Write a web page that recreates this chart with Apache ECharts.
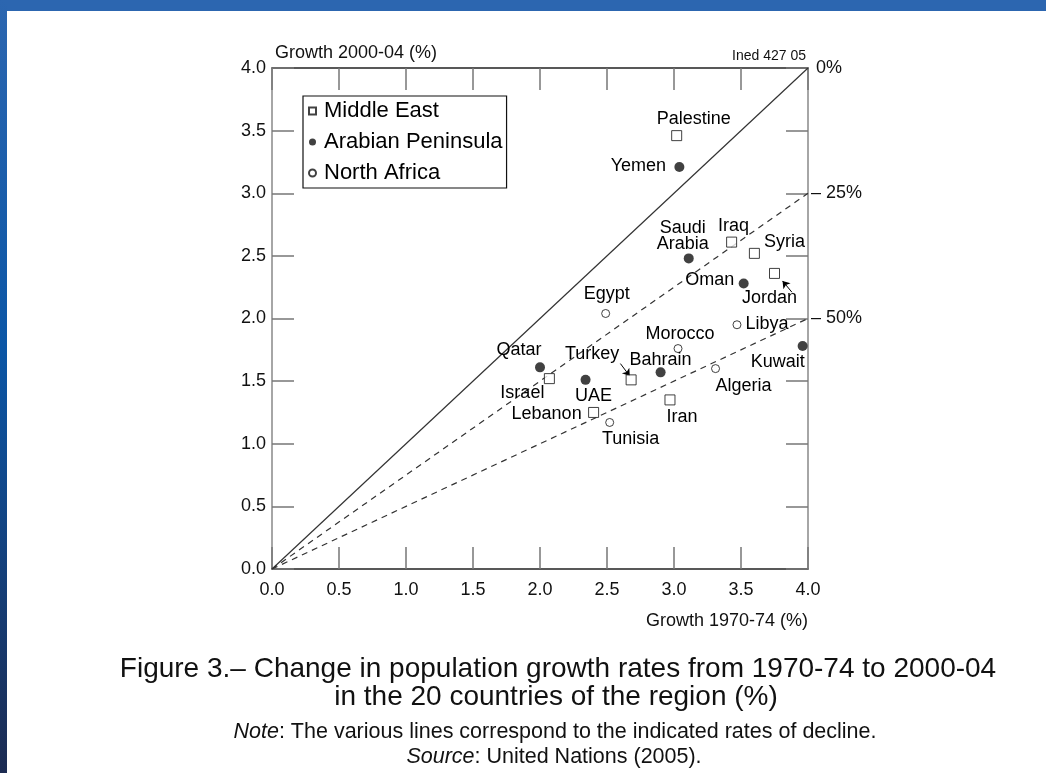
<!DOCTYPE html>
<html>
<head>
<meta charset="UTF-8">
<title>Population growth 1970-74 vs 2000-04</title>
<script src="https://cdn.jsdelivr.net/npm/echarts@6/dist/echarts.min.js"></script>
<style>
body{margin:0;background:#fff;}
#chart{position:absolute;left:0;top:0;width:1046px;height:773px;}
#topbar{position:absolute;left:0;top:0;width:1046px;height:11px;background:#2c66b0;}
#leftbar{position:absolute;left:0;top:0;width:7px;height:773px;background:linear-gradient(#2c66b0,#0b56a6 45%,#1c2b52);}
</style>
</head>
<body>
<div id="chart"></div>
<div id="topbar"></div>
<div id="leftbar"></div>
<script type="text/javascript">
// data
var regions = ['Middle East', 'Arabian Peninsula', 'North Africa'];
var countries = ['Palestine', 'Iraq', 'Syria', 'Jordan', 'Israel', 'Turkey', 'Iran', 'Lebanon',
	'Yemen', 'Saudi\nArabia', 'Oman', 'Kuwait', 'Qatar', 'UAE', 'Bahrain',
	'Egypt', 'Libya', 'Morocco', 'Algeria', 'Tunisia'];
var region = [0, 0, 0, 0, 0, 0, 0, 0, 1, 1, 1, 1, 1, 1, 1, 2, 2, 2, 2, 2];
var growth7074 = [3.02, 3.43, 3.60, 3.75, 2.07, 2.68, 2.97, 2.40,
	3.04, 3.11, 3.52, 3.96, 2.00, 2.34, 2.90,
	2.49, 3.47, 3.03, 3.31, 2.52];
var growth0004 = [3.46, 2.61, 2.52, 2.36, 1.52, 1.51, 1.35, 1.25,
	3.21, 2.48, 2.28, 1.78, 1.61, 1.51, 1.57,
	2.04, 1.95, 1.76, 1.60, 1.17];
var declines = [0, 25, 50];

// label placement (pixels from the marker)
var labelOffset = {
	'Palestine': [17, -17], 'Iraq': [2, -16], 'Syria': [30, -11], 'Jordan': [-5, 25],
	'Israel': [-27, 14], 'Turkey': [-39, -26], 'Iran': [12, 17], 'Lebanon': [-47, 2],
	'Yemen': [-41, -1], 'Saudi\nArabia': [-6, -22], 'Oman': [-34, -3], 'Kuwait': [-25, 16],
	'Qatar': [-21, -17], 'UAE': [8, 16], 'Bahrain': [0, -12],
	'Egypt': [1, -19], 'Libya': [30, -1], 'Morocco': [2, -15], 'Algeria': [28, 17], 'Tunisia': [21, 17]
};
// arrows pointing from a label to its marker
var arrows = [
	[[2.60, 1.64], [2.67, 1.54]],
	[[3.88, 2.21], [3.81, 2.30]]
];

var font = 'Liberation Sans';
var symbols = ['rect', 'circle', 'circle'];
var symbolSizes = [10, 10, 8];
var styles = [
	{color: '#fff', borderColor: '#111', borderWidth: 1},
	{color: '#111', borderColor: '#111', borderWidth: 0},
	{color: '#fff', borderColor: '#111', borderWidth: 1}
];

var series = [];
// decline lines
declines.forEach(function(d){
	var top = 4 * (1 - d / 100);
	series.push({
		type: 'line', silent: true, symbol: 'none', animation: false,
		data: [[0, 0], [4, top]],
		lineStyle: {color: '#333', width: 1.2, type: d === 0 ? 'solid' : [6, 5]}
	});
});
// countries by region
regions.forEach(function(r, k){
	var pts = [];
	for (var i = 0; i < countries.length; i++) {
		if (region[i] !== k) continue;
		pts.push({
			name: countries[i],
			value: [growth7074[i], growth0004[i]],
			label: {offset: labelOffset[countries[i]]}
		});
	}
	series.push({
		name: r, type: 'scatter', animation: false,
		symbol: symbols[k], symbolSize: symbolSizes[k],
		itemStyle: styles[k],
		label: {
			show: true, position: 'inside', formatter: '{b}',
			fontFamily: font, fontSize: 18, color: '#000', lineHeight: 16,
			textBorderWidth: 0, opacity: 1,
			align: 'center', verticalAlign: 'middle'
		},
		data: pts,
		z: 5
	});
});
series.push({
	type: 'lines', coordinateSystem: 'cartesian2d', silent: true, animation: false,
	symbol: ['none', 'arrow'], symbolSize: 7,
	lineStyle: {color: '#000', width: 1, opacity: 1},
	data: arrows.map(function(a){ return {coords: a}; })
});

function baseAxis(extra){
	var ax = {
		type: 'value', min: 0, max: 4, interval: 0.5,
		splitLine: {show: false},
		axisLine: {show: true, onZero: false, lineStyle: {color: '#222', width: 1.5}},
		axisTick: {show: true, inside: true, length: 22, lineStyle: {color: '#777', width: 1.5}},
		axisLabel: {show: false}
	};
	for (var k in extra) ax[k] = extra[k];
	return ax;
}

var chart = echarts.init(document.getElementById('chart'));
var option = {
	backgroundColor: '#fff',
	textStyle: {fontFamily: font},
	grid: {left: 272, top: 68, width: 536, height: 501, containLabel: false},
	legend: {
		orient: 'vertical', left: 303, top: 96,
		selectedMode: false,
		padding: [4, 4, 4, 5], itemGap: 9, itemWidth: 7, itemHeight: 7,
		borderColor: '#111', borderWidth: 1.2, backgroundColor: '#fff',
		textStyle: {fontFamily: font, fontSize: 22, color: '#000', padding: [0, 0, 0, 3]},
		data: [
			{name: regions[0], icon: 'rect'},
			{name: regions[1], icon: 'circle'},
			{name: regions[2], icon: 'circle'}
		]
	},
	xAxis: [
		baseAxis({
			position: 'bottom',
			axisLabel: {show: true, margin: 12, fontFamily: font, fontSize: 18, color: '#111',
				formatter: function(v){ return v.toFixed(1); }}
		}),
		baseAxis({position: 'top'})
	],
	yAxis: [
		baseAxis({
			position: 'left',
			axisLine: {show: true, onZero: false, lineStyle: {color: '#888', width: 1.5}},
			axisLabel: {show: true, margin: 6, fontFamily: font, fontSize: 18, color: '#111',
				formatter: function(v){ return v.toFixed(1); }}
		}),
		baseAxis({
			position: 'right',
			axisLine: {show: true, onZero: false, lineStyle: {color: '#888', width: 1.5}},
			axisLabel: {show: true, margin: 3, fontFamily: font, fontSize: 18, color: '#111',
				formatter: function(v){
					var d = Math.round((1 - v / 4) * 100);
					if (declines.indexOf(d) < 0) return '';
					return d === 0 ? ' 0%' : '– ' + d + '%';
				}}
		})
	],
	graphic: [
		{type: 'text', x: 275, y: 53, style: {text: 'Growth 2000-04 (%)', font: '18px ' + font, fill: '#111', textVerticalAlign: 'middle'}},
		{type: 'text', x: 806, y: 56, style: {text: 'Ined 427 05', font: '14px ' + font, fill: '#111', textAlign: 'right', textVerticalAlign: 'middle'}},
		{type: 'text', x: 808, y: 621, style: {text: 'Growth 1970-74 (%)', font: '18px ' + font, fill: '#111', textAlign: 'right', textVerticalAlign: 'middle'}},
		{type: 'text', x: 558, y: 669, style: {text: 'Figure 3.– Change in population growth rates from 1970-74 to 2000-04', font: '28px ' + font, fill: '#111', textAlign: 'center', textVerticalAlign: 'middle'}},
		{type: 'text', x: 556, y: 697, style: {text: 'in the 20 countries of the region (%)', font: '28px ' + font, fill: '#111', textAlign: 'center', textVerticalAlign: 'middle'}},
		{type: 'text', x: 555, y: 732, style: {
			text: '{i|Note}: The various lines correspond to the indicated rates of decline.',
			font: '21.5px ' + font, fill: '#111', textAlign: 'center', textVerticalAlign: 'middle',
			rich: {i: {fontStyle: 'italic', fontSize: 21.5, fontFamily: font, fill: '#111'}}}},
		{type: 'text', x: 554, y: 757, style: {
			text: '{i|Source}: United Nations (2005).',
			font: '21.5px ' + font, fill: '#111', textAlign: 'center', textVerticalAlign: 'middle',
			rich: {i: {fontStyle: 'italic', fontSize: 21.5, fontFamily: font, fill: '#111'}}}}
	],
	series: series
};
chart.setOption(option);
</script>
</body>
</html>
